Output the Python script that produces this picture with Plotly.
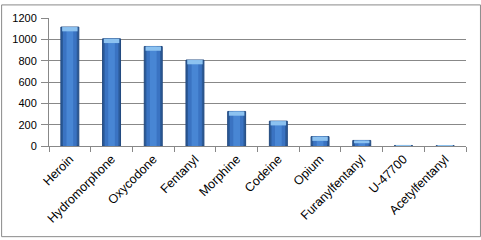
import plotly.graph_objects as go

categories = ["Heroin", "Hydromorphone", "Oxycodone", "Fentanyl", "Morphine",
              "Codeine", "Opium", "Furanylfentanyl", "U-47700", "Acetylfentanyl"]
values = [1115, 1005, 933, 806, 324, 233, 88, 52, 5, 3]
y_ticks = [0, 200, 400, 600, 800, 1000, 1200]

W, H = 481, 240
ml, mr, mt, mb = 48, 15, 14, 94
pw, ph = W - ml - mr, H - mt - mb

cap = [min(40, v * 0.5) for v in values]
cap_base = [v - c for v, c in zip(values, cap)]

fig = go.Figure()
# layered bars to imitate the cylinder shading
for w, col, line in [(0.43, "#2B5A98", dict(color="#22497F", width=1)),
                     (0.33, "#3A73C2", dict(width=0)),
                     (0.16, "#4886D4", dict(width=0))]:
    fig.add_trace(go.Bar(x=categories, y=values, width=w,
                         marker=dict(color=col, line=line), hoverinfo="x+y"))
fig.add_trace(go.Bar(x=categories, y=cap, base=cap_base, width=0.37,
                     marker=dict(color="#8CC2F0", line=dict(width=0)), hoverinfo="skip"))

fig.update_layout(
    width=W, height=H,
    margin=dict(l=ml, r=mr, t=mt, b=mb),
    paper_bgcolor="white", plot_bgcolor="white",
    showlegend=False, barmode="overlay",
    font=dict(family="Liberation Sans, Arial, sans-serif", size=12, color="#000"),
    shapes=[dict(type="rect", xref="paper", yref="paper",
                 x0=-(ml - 0.5) / pw, x1=1 + (mr - 0.5) / pw,
                 y0=-(mb - 0.5) / ph, y1=1 + (mt - 0.5) / ph,
                 line=dict(color="#8a8a8a", width=1), layer="below")],
)
fig.update_xaxes(
    type="category", showgrid=False, showline=True, linecolor="#888", linewidth=1,
    ticks="outside", tickson="boundaries", ticklen=5, tickcolor="#888",
    tickangle=-45, tickfont=dict(size=12.5),
)
fig.update_yaxes(
    range=[0, 1200], tickvals=y_ticks, showgrid=True, gridcolor="#888", gridwidth=1,
    showline=True, linecolor="#888", linewidth=1, ticks="outside", ticklen=7,
    tickcolor="#888", tickfont=dict(size=11), zeroline=False, ticklabelstandoff=2,
)

fig.write_html("out.html")
